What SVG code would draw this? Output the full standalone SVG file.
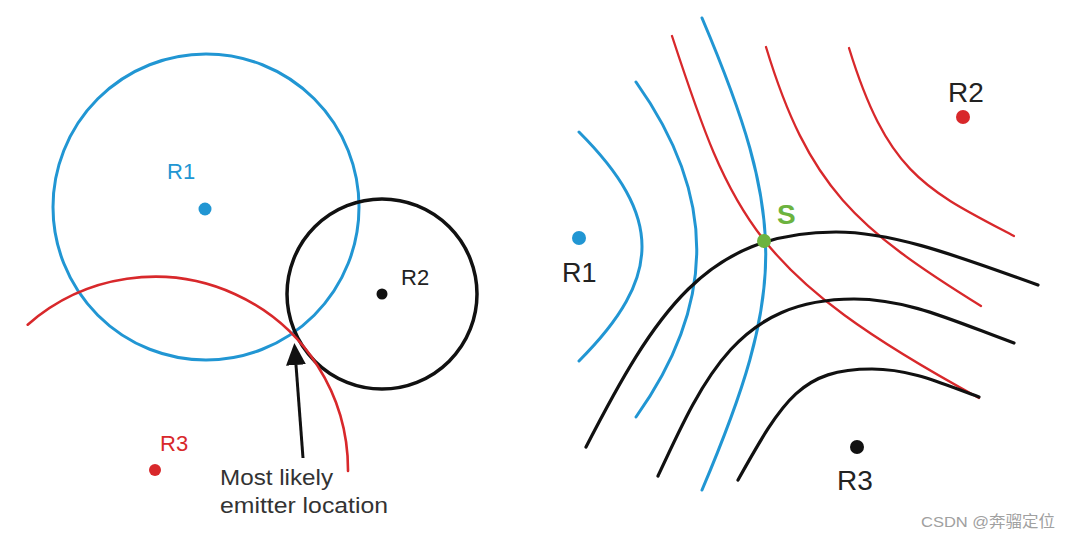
<svg xmlns="http://www.w3.org/2000/svg" width="1072" height="543" viewBox="0 0 1072 543">
<style>
  .blue{fill:none;stroke:#2196d3;stroke-width:3;stroke-linecap:round}
  .red{fill:none;stroke:#d8282b;stroke-width:2.3;stroke-linecap:round}
  .black{fill:none;stroke:#111;stroke-width:3.2;stroke-linecap:round}
  .lbl{font-family:"Liberation Sans",Arial,sans-serif}
  .dark{fill:#222}
</style>
<defs>
  <marker id="arrow" markerUnits="userSpaceOnUse" markerWidth="24" markerHeight="22" refX="0" refY="10" orient="auto">
    <path d="M0,0 L22,10 L0,20 Z" fill="#111"/>
  </marker>
</defs>
<rect width="1072" height="543" fill="#fff"/>

<!-- Left panel -->
<g id="left-circles">
  <circle id="circle-r1" cx="206" cy="207" r="153" class="blue"/>
  <circle id="circle-r2" cx="382" cy="294" r="95" class="black" style="stroke-width:3.5"/>
  <path id="arc-r3" d="M27.7,324.7 A193,193 0 0 1 348,471" class="red" style="stroke-width:2.6"/>
</g>
<g id="left-r1">
  <circle cx="205" cy="209" r="6.5" fill="#2196d3"/>
  <text x="167" y="179" class="lbl" font-size="22" fill="#2196d3">R1</text>
</g>
<g id="left-r2">
  <circle cx="382" cy="294" r="5.5" fill="#111"/>
  <text x="401" y="285" class="lbl dark" font-size="22">R2</text>
</g>
<g id="left-r3">
  <circle cx="155" cy="470" r="6" fill="#d8282b"/>
  <text x="160" y="451" class="lbl" font-size="22" fill="#d8282b">R3</text>
</g>
<g id="emitter-label">
  <text x="220" y="485" class="lbl" font-size="22" fill="#333" textLength="113" lengthAdjust="spacingAndGlyphs">Most likely</text>
  <text x="220" y="513" class="lbl" font-size="22" fill="#333" textLength="168" lengthAdjust="spacingAndGlyphs">emitter location</text>
</g>

<g id="connectors">
  <line id="arrow-emitter" x1="303" y1="458" x2="296" y2="365" stroke="#111" stroke-width="3" marker-end="url(#arrow)"/>
</g>

<!-- Right panel -->
<g id="hyperbolas-r1">
  <path class="blue" d="M579,132 C663,216 663,277 579,361"/>
  <path class="blue" d="M636,82 C717,196 717,303 636,417"/>
  <path class="blue" d="M702,18 C787,218 787,290 702,490"/>
</g>
<g id="hyperbolas-r2">
  <path class="red" d="M672,36 C732,219 754,275 979,398"/>
  <path class="red" d="M766,47 C808.5,187 856,228.5 981,306"/>
  <path class="red" d="M849,48 C888,174.5 926.6,190 1014,236"/>
</g>
<g id="hyperbolas-r3">
  <path class="black" d="M586,447 C655,313 706,232 836,232 C896,232 963,258.4 1038,285"/>
  <path class="black" d="M658,476 C704,376.6 739,299 854,299 C909,299 956,322 1014,343"/>
  <path class="black" d="M738,480 C783.6,398.4 802,369 872,369 C912,369 945,385 979,397"/>
</g>

<g id="right-r1">
  <circle cx="579" cy="238" r="7" fill="#2196d3"/>
  <text x="562" y="282" class="lbl dark" font-size="27">R1</text>
</g>
<g id="right-r2">
  <circle cx="963" cy="117" r="7" fill="#d8282b"/>
  <text x="948" y="102" class="lbl dark" font-size="28">R2</text>
</g>
<g id="right-r3">
  <circle cx="857" cy="447" r="7" fill="#111"/>
  <text x="837" y="490" class="lbl dark" font-size="28">R3</text>
</g>
<g id="source-s">
  <circle cx="764" cy="241" r="7" fill="#6cb33f"/>
  <text x="777" y="224" class="lbl" font-size="28" font-weight="bold" fill="#6cb33f">S</text>
</g>

<text id="watermark" x="921" y="527" font-family="'Liberation Sans','Noto Sans CJK SC',sans-serif" font-size="15.5" fill="#a0a0a0" textLength="134" lengthAdjust="spacingAndGlyphs">CSDN @奔骝定位</text>
</svg>
